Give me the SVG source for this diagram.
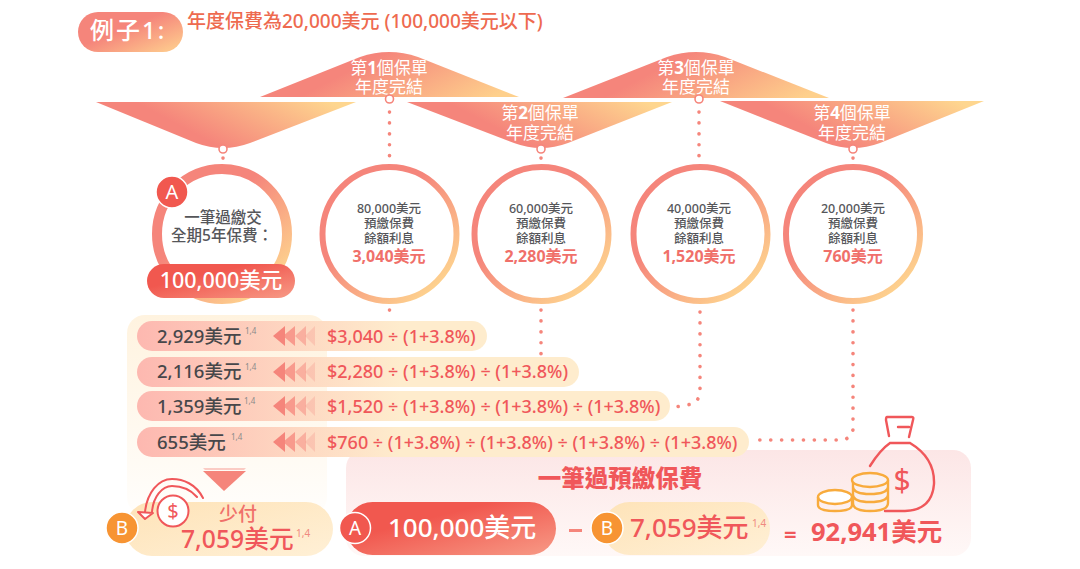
<svg xmlns="http://www.w3.org/2000/svg" width="1080" height="569" viewBox="0 0 1080 569">
<defs>
<linearGradient id="warm" x1="0.15" y1="0.3" x2="0.85" y2="0.95"><stop offset="0.3" stop-color="#f5857b"/><stop offset="1" stop-color="#fdc58c"/></linearGradient>
<linearGradient id="bannerD" x1="0.25" y1="0.55" x2="1" y2="0.3"><stop offset="0.1" stop-color="#f5857b"/><stop offset="1" stop-color="#fed68f"/></linearGradient>
<linearGradient id="bannerU" x1="0.25" y1="0.45" x2="1" y2="0.7"><stop offset="0.1" stop-color="#f5857b"/><stop offset="1" stop-color="#fed08c"/></linearGradient>
<linearGradient id="ring" x1="0.1" y1="0.1" x2="0.85" y2="0.95"><stop offset="0.35" stop-color="#f5857b"/><stop offset="1" stop-color="#fed68f"/></linearGradient>
<linearGradient id="red" x1="0" y1="0" x2="1" y2="1"><stop offset="0.35" stop-color="#f1584f"/><stop offset="1" stop-color="#f79a86"/></linearGradient>
<linearGradient id="rowA" gradientUnits="userSpaceOnUse" x1="137" y1="0" x2="400" y2="0"><stop offset="0" stop-color="#fdb8b0"/><stop offset="1" stop-color="#feeccd"/></linearGradient>
<linearGradient id="panelB" x1="0" y1="0" x2="0" y2="1"><stop offset="0" stop-color="#fff3df"/><stop offset="1" stop-color="#fff3df" stop-opacity="0.1"/></linearGradient>
<linearGradient id="panelP" x1="0" y1="0" x2="0" y2="1"><stop offset="0" stop-color="#fce6e6"/><stop offset="1" stop-color="#fff8f7"/></linearGradient>
<linearGradient id="soft" x1="0" y1="0" x2="1" y2="1"><stop offset="0" stop-color="#fee3b8"/><stop offset="1" stop-color="#fff0d6"/></linearGradient>
</defs>
<style>
text{font-family:"Noto Sans","Noto Sans CJK TC",sans-serif}
.w{fill:#fff}
.c{text-anchor:middle}
.ban{font-size:17px;fill:#fff;text-anchor:middle}
.gr{font-size:12.500px;fill:#55565a;text-anchor:middle;font-weight:500}
.amt{font-size:16px;fill:#f0706a;text-anchor:middle;font-weight:700}
.row{font-size:18.500px;fill:#47474a;font-weight:500}
.eq{font-size:18px;fill:#f0575a;font-weight:500}
.sup{font-size:8px;fill:#8a8a8a}
.sup2{font-size:10px;fill:#f08a80}
.ring{fill:#fff;stroke:url(#ring);stroke-width:6}
.dot{fill:none;stroke:#f5857b;stroke-width:3.600;stroke-linecap:round;stroke-dasharray:0.1 10.8}
.pt{fill:#fff;stroke:#f5857b;stroke-width:1.600}
.ic{fill:none;stroke:#f0575a;stroke-width:2;stroke-linecap:round;stroke-linejoin:round}
.coin{fill:none;stroke:#f8ab3c;stroke-width:2.400}
.ar{fill:#f5857b}
</style>

<g id="heading">
<rect x="78" y="12" width="105" height="40" rx="20" fill="url(#warm)"/>
<text x="90" y="39" font-size="24" class="w" font-weight="500" letter-spacing="2">例子1:</text>
<text x="187" y="28" font-size="19" fill="#ee6a4f" font-weight="500">年度保費為20,000美元 (100,000美元以下)</text>
</g>

<g id="connectors">
<path class="dot" d="M223 158V161"/>
<path class="dot" d="M389.500 112V158"/>
<path class="dot" d="M541 158V161"/>
<path class="dot" d="M699 112V158"/>
<path class="dot" d="M853 158V161"/>
<path class="dot" d="M389.500 310V320"/>
<path class="dot" d="M541 310V355"/>
<path class="dot" d="M700 312V390Q700 404 686 405L670 408"/>
<path class="dot" d="M853 310V428Q853 438 842 440H752"/>
</g>

<g id="banners">
<path d="M260 97L360 57Q389 47 418 57L519 97Z" fill="url(#bannerU)"/>
<path d="M563 98L667 57Q696 47 725 57L829 98Z" fill="url(#bannerU)"/>
<path d="M96 102H356L250 143Q223 153 196 143Z" fill="url(#bannerD)"/>
<path d="M407 102H672L568 143Q541 153 514 143Z" fill="url(#bannerD)"/>
<path d="M720 101H984L880 143Q853 153 826 143Z" fill="url(#bannerD)"/>
<text class="ban" x="389" y="74">第<tspan font-weight="700">1</tspan>個保單</text>
<text class="ban" x="389" y="93">年度完結</text>
<text class="ban" x="540" y="119">第<tspan font-weight="700">2</tspan>個保單</text>
<text class="ban" x="540" y="139">年度完結</text>
<text class="ban" x="696" y="74">第<tspan font-weight="700">3</tspan>個保單</text>
<text class="ban" x="696" y="93">年度完結</text>
<text class="ban" x="852" y="119">第<tspan font-weight="700">4</tspan>個保單</text>
<text class="ban" x="852" y="139">年度完結</text>
<circle class="pt" cx="223" cy="149" r="4"/>
<circle class="pt" cx="389.500" cy="99" r="4"/>
<circle class="pt" cx="541" cy="149" r="4"/>
<circle class="pt" cx="699" cy="99" r="4"/>
<circle class="pt" cx="853" cy="149" r="4"/>
</g>

<g id="node-lump">
<circle cx="222" cy="234" r="65" fill="#fff" stroke="url(#ring)" stroke-width="10"/>
<text x="223" y="223" font-size="15.500" class="c" fill="#55565a" font-weight="500">一筆過繳交</text>
<text x="222" y="241" font-size="15.500" class="c" fill="#55565a" font-weight="500">全期5年保費：</text>
<rect x="147" y="264" width="148" height="34" rx="17" fill="url(#red)"/>
<text x="221" y="288" font-size="21.500" class="c w" font-weight="500">100,000美元</text>
<circle cx="172" cy="192" r="16" fill="#f1584f" stroke="#fff" stroke-width="1.500"/>
<text x="172" y="199" font-size="20" class="c w">A</text>
</g>
<g id="node-1"><circle class="ring" cx="389.500" cy="234" r="67"/><text class="gr" x="389" y="213">80,000美元</text><text class="gr" x="389" y="228">預繳保費</text><text class="gr" x="389" y="243">餘額利息</text><text class="amt" x="389" y="262">3,040美元</text></g>
<g id="node-2"><circle class="ring" cx="541.500" cy="234" r="67"/><text class="gr" x="541" y="213">60,000美元</text><text class="gr" x="541" y="228">預繳保費</text><text class="gr" x="541" y="243">餘額利息</text><text class="amt" x="541" y="262">2,280美元</text></g>
<g id="node-3"><circle class="ring" cx="700.500" cy="234" r="67"/><text class="gr" x="699" y="213">40,000美元</text><text class="gr" x="699" y="228">預繳保費</text><text class="gr" x="699" y="243">餘額利息</text><text class="amt" x="699" y="262">1,520美元</text></g>
<g id="node-4"><circle class="ring" cx="853" cy="234" r="67"/><text class="gr" x="853" y="213">20,000美元</text><text class="gr" x="853" y="228">預繳保費</text><text class="gr" x="853" y="243">餘額利息</text><text class="amt" x="853" y="262">760美元</text></g>

<g id="panels">
<rect x="127" y="315" width="200" height="200" rx="18" fill="url(#panelB)"/>
<rect x="346" y="450" width="625" height="106" rx="18" fill="url(#panelP)"/>
</g>

<g id="rows">
<rect x="137" y="321" width="350" height="30" rx="15" fill="url(#rowA)"/>
<rect x="137" y="357" width="442" height="30" rx="15" fill="url(#rowA)"/>
<rect x="137" y="391" width="533" height="30" rx="15" fill="url(#rowA)"/>
<rect x="137" y="427" width="612" height="30" rx="15" fill="url(#rowA)"/>
<g id="arrows">
<path class="ar" d="M273 336L285 326V346Z"/><path class="ar" opacity=".75" d="M283 336L295 326V346Z"/><path class="ar" opacity=".5" d="M295 336L306 326V346Z"/><path class="ar" opacity=".25" d="M305 336L315 326V346Z"/>
<path class="ar" d="M273 372L285 362V382Z"/><path class="ar" opacity=".75" d="M283 372L295 362V382Z"/><path class="ar" opacity=".5" d="M295 372L306 362V382Z"/><path class="ar" opacity=".25" d="M305 372L315 362V382Z"/>
<path class="ar" d="M273 406L285 396V416Z"/><path class="ar" opacity=".75" d="M283 406L295 396V416Z"/><path class="ar" opacity=".5" d="M295 406L306 396V416Z"/><path class="ar" opacity=".25" d="M305 406L315 396V416Z"/>
<path class="ar" d="M273 442L285 432V452Z"/><path class="ar" opacity=".75" d="M283 442L295 432V452Z"/><path class="ar" opacity=".5" d="M295 442L306 432V452Z"/><path class="ar" opacity=".25" d="M305 442L315 432V452Z"/>
</g>
<text class="row" x="157" y="343">2,929美元</text><text class="sup" x="245" y="334">1,4</text><text class="eq" x="327" y="343">$3,040 ÷ (1+3.8%)</text>
<text class="row" x="157" y="378">2,116美元</text><text class="sup" x="245" y="370">1,4</text><text class="eq" x="327" y="378">$2,280 ÷ (1+3.8%) ÷ (1+3.8%)</text>
<text class="row" x="157" y="413">1,359美元</text><text class="sup" x="244" y="404">1,4</text><text class="eq" x="327" y="413">$1,520 ÷ (1+3.8%) ÷ (1+3.8%) ÷ (1+3.8%)</text>
<text class="row" x="157" y="449">655美元</text><text class="sup" x="231" y="440">1,4</text><text class="eq" x="327" y="449">$760 ÷ (1+3.8%) ÷ (1+3.8%) ÷ (1+3.8%) ÷ (1+3.8%)</text>
</g>

<g id="node-saving">
<path d="M203 468H246L244 470H205Z" fill="#f5857b" opacity=".4"/>
<path d="M203 471H246L224 491Z" fill="#f5857b"/>
<rect x="125" y="502" width="208" height="54" rx="27" fill="url(#soft)"/>
<path class="ic" d="M203 498C196 484 183 479 172 479C158 479 147 493 145 512M197 497C191 490 182 486 172 486C162 486 153 497 152 512"/>
<path d="M138 512L145 519L153 513Z" fill="#fff" stroke="#f0575a" stroke-width="2" stroke-linejoin="round"/>
<circle cx="173" cy="511" r="15.500" fill="#fff" stroke="#f0575a" stroke-width="2"/>
<text x="173" y="518" font-size="20" class="c" fill="#f0575a">$</text>
<circle cx="122" cy="528" r="16" fill="#f79433" stroke="#fff" stroke-width="1.500"/>
<text x="122" y="535" font-size="19" class="c w">B</text>
<text x="238" y="521" font-size="19" class="c" fill="#f0706a" font-weight="500">少付</text>
<text x="181" y="548" font-size="24.700" fill="#f0575a" font-weight="500">7,059美元</text>
<text class="sup2" x="296" y="537">1,4</text>
</g>

<g id="node-formula">
<text x="620" y="487" font-size="23.500" class="c" fill="#f0575a" font-weight="900">一筆過預繳保費</text>
<rect x="346" y="502" width="210" height="53" rx="26.500" fill="url(#red)"/>
<circle cx="355" cy="528" r="15.500" fill="#f1584f" stroke="#fff" stroke-width="1.500"/>
<text x="355" y="535" font-size="19" class="c w">A</text>
<text x="388" y="537" font-size="26" class="w" font-weight="500">100,000美元</text>
<rect x="569" y="529" width="13" height="3" fill="#f5857b"/>
<rect x="603" y="502" width="167" height="53" rx="26.500" fill="url(#soft)"/>
<circle cx="607" cy="528" r="16" fill="#f79433" stroke="#fff" stroke-width="1.500"/>
<text x="607" y="535" font-size="19" class="c w">B</text>
<text x="630" y="537" font-size="26" fill="#f0575a" font-weight="500">7,059美元</text>
<text class="sup2" x="752" y="527">1,4</text>
<text x="784" y="542" font-size="22" fill="#f0575a" font-weight="700">=</text>
<text x="811" y="541" font-size="25.500" fill="#f0575a" font-weight="700">92,941美元</text>
</g>

<g id="money-icon">
<path d="M887 417H912Q914 417 913 420L909 437M889 436L886 420Q886 417 887 417M898 427H909" fill="none" stroke="#f0575a" stroke-width="2.400" stroke-linecap="round" stroke-linejoin="round"/>
<path d="M870 466Q880 450 890 443H910Q935 458 934 484Q932 510 905 511H885" fill="none" stroke="#f0575a" stroke-width="2.400" stroke-linecap="round"/>
<text x="902" y="491" font-size="30" class="c" fill="#f0575a">$</text>
<g class="coin">
<ellipse cx="835" cy="497" rx="17" ry="7" fill="#fff"/>
<path d="M818 497V505Q818 511 835 511Q852 511 852 505V497"/>
<path d="M853 480V503Q853 511 870 511Q888 511 888 503V480M853 487Q854 494 870 494Q887 494 888 487M853 495Q854 502 870 502Q887 502 888 495" fill="#fbf0ee"/>
<ellipse cx="870" cy="480" rx="18" ry="7" fill="#fbf0ee"/>
</g>
</g>
</svg>
